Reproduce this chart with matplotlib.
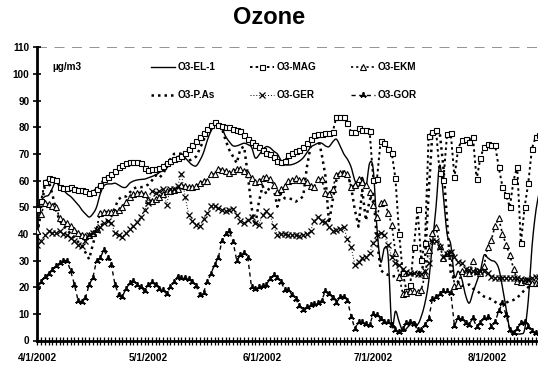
import numpy as np
import matplotlib
matplotlib.use("Agg")
import matplotlib.pyplot as plt

# ---------------- data (daily values, day 0 = 4/1/2002) ----------------
month_days = [0, 30, 61, 91, 122]
month_labels = ["4/1/2002", "5/1/2002", "6/1/2002", "7/1/2002", "8/1/2002"]

el1 = [49, 52.5, 54, 54.5, 57, 60, 58, 56.5, 55, 54,
       52.5, 51, 49, 47.5, 46.3, 47.5, 50, 55, 58, 58.7,
       58.7, 59, 58.3, 57.5, 57.5, 59, 59.8, 60.2, 60.4, 60.5,
       61, 61.5, 62, 63, 63.8, 64.6, 66.5, 68, 69, 69.2,
       68.5, 67, 65.8, 65.5, 67.5, 70.5, 75, 78.5, 80.5, 81.4,
       79.5, 76.5, 74.5, 73, 73, 73.5, 74, 73.5, 72.5, 68.5,
       69.5, 71.5, 72.7, 72.3, 71, 70, 67.5, 66, 65.8, 66,
       66.5, 67.3, 68.5, 70.5, 72.5, 73.3, 74, 74, 73, 72.7,
       74.5, 75.5, 73, 70, 68, 65, 60, 57.7, 61.2, 57.7,
       66.5, 64, 42, 29.5, 34.6, 32, 5.5, 11, 7, 3.5,
       4.5, 6, 7, 6, 9, 14, 22, 36, 50, 65.8,
       54, 40, 36, 24, 26, 23, 17, 14, 18, 22,
       26, 32, 31, 30, 29.5, 27, 20, 12, 4, 2.5,
       2.5, 2.5, 4, 15, 35, 48, 56]

mag = [49.5, 52.5, 59.5, 61, 60.5, 60.2, 57.5, 57.2, 57.3, 57.4,
       56.8, 56.5, 56.3, 56, 55.5, 55.8, 57, 58.5, 60.5, 61.5,
       62.5, 63.5, 65, 66, 66.5, 66.8, 67, 67, 66.7, 64.8,
       64, 64.2, 64.3, 64.8, 65.5, 66.5, 67.5, 68, 68.5, 69.3,
       70.5, 72, 73.5, 75, 76.5, 78, 79.2, 80.8, 82, 80.8,
       80.3, 80, 80, 79.5, 79, 78.5, 77, 75.5, 74.5, 73.5,
       72.5, 71.5, 70.5, 70, 68.8, 67.5, 67, 67.3, 69.5, 70.5,
       71, 71.5, 72.5, 74, 75.5, 77, 77.3, 77.5, 77.8, 78,
       78.1, 84, 84, 84, 81.7, 78.1, 78.3, 79.6, 79, 79,
       78.7, 60.2, 60.5, 75, 74.2, 72, 70.4, 60.8, 40, 25.2,
       18.7, 20.8, 35, 49.2, 30.2, 36.7, 76.7, 78.3, 79, 62.7,
       60.2, 77.5, 77.7, 61.2, 72, 75.2, 75.5, 74.6, 76.5, 60.4,
       68.3, 72.7, 73.7, 73.3, 73.3, 65, 57.7, 54.5, 50, 60,
       65.2, 36.4, 50, 59, 72, 76.3, 77]

ekm = [41, 47.5, 51.5, 51.2, 50.5, 50, 46, 45, 44, 43,
       41.5, 40.5, 39.6, 39.2, 39.5, 40.5, 42, 48, 48.3, 48.3,
       48.3, 48.3, 49, 50, 52, 54, 55, 55.5, 55.5, 55,
       52.7, 52.5, 53, 54, 55, 56, 56.2, 56.5, 57, 58.3,
       57.8, 57.5, 57.7, 58, 59, 60, 60, 62.5, 62.5, 64.5,
       64, 63.5, 63, 63.7, 64.5, 64.2, 63.5, 62.5, 61, 59.6,
       60, 61, 61.2, 60.5, 58.3, 55.8, 57, 58, 60, 60.2,
       60.8, 60.2, 60.2, 59.5, 58, 57.5, 60.5, 60.5, 55.5, 55,
       57, 62, 63, 62.8, 62.5, 57.5, 58.3, 60.5, 59.5, 58.3,
       55.8, 51, 46.5, 51.5, 52, 48, 43.5, 33, 24, 17.5,
       18, 18.7, 18.5, 18.3, 19, 24.5, 34, 40.5, 42.7, 35.5,
       31, 33, 33.3, 20.5, 21, 26, 25.5, 25.2, 30, 26,
       25.2, 28, 35, 37.7, 43, 45.8, 40, 36, 32, 27,
       22.5, 22.1, 22.7, 22.2, 21.7, 21.5, 22]

pas = [40, 50, 58, 60, 55, 49, 45, 43, 41.5, 40,
       38.5, 37, 35.5, 33, 30.5, 36, 41, 43, 44, 45,
       46.5, 50, 53, 54, 54, 55.5, 57, 57.5, 57.5, 57.7,
       58.5, 60, 62, 61, 62.5, 65, 68, 70, 70.2, 70,
       68, 67.5, 68, 69, 72, 75, 79, 80, 81.5, 80,
       79.5, 75, 71.4, 69, 66.5, 72, 72.7, 62, 50, 43,
       52, 58, 55, 57.7, 57.1, 50.2, 55.2, 53.3, 53.3, 53,
       52.1, 53, 54, 65, 72.7, 75.2, 76.4, 70, 62, 44,
       52.7, 60.2, 63.3, 63.3, 63, 57.5, 49, 42.7, 56.5, 45,
       52.7, 55, 37.7, 26.4, 25.2, 24.6, 24, 24.2, 24.6, 24.6,
       24.6, 24.6, 25, 25.2, 26, 30, 55, 77.7, 79.6, 78,
       65, 45, 25, 23, 22, 20.5, 20.5, 21, 19.5, 18.9,
       17.5, 16.5, 16, 15.5, 14.5, 13.5, 13.9, 14.2, 14.8, 15.2,
       16, 17.5, 18.9, 20, 20.8, 22, 22]

ger = [36, 37.5, 39.5, 41, 40.5, 40.5, 41, 40, 39.5, 38.5,
       37.5, 36, 35.5, 37.5, 39.5, 40.5, 41.5, 42.5, 44, 45,
       44, 40.5, 39.5, 39, 40.5, 42, 43, 44.5, 46.5, 49,
       51.5, 56, 55.5, 56, 57, 51, 57, 57, 58, 62.5,
       54, 47, 45, 43.5, 43, 45.5, 48, 50.5, 50.5, 49.8,
       49, 48.5, 49, 49.5, 47, 45, 44.2, 45.3, 46.5, 44,
       43.5, 47, 48.5, 47, 43, 39.6, 39.8, 40, 39.4, 39.4,
       39.6, 39.3, 39.5, 40, 41, 45, 46.5, 45, 44.5, 42.5,
       41, 41.5, 42, 42.5, 38, 35, 28.5, 29.5, 31, 31.5,
       32.7, 36.5, 39.5, 40.5, 39.6, 36, 31.5, 29, 28.3, 26.8,
       25.8, 25.2, 25.2, 25, 25, 26, 29, 37.5, 37.5, 35,
       31.5, 32.5, 33.3, 31.5, 29.5, 29, 27, 26.4, 26.1, 25.8,
       26, 26, 25.5, 24, 23.6, 23.6, 23.6, 23.6, 23.6, 23.6,
       23.6, 23, 22.8, 22.6, 23.5, 23.8, 24]

gor = [20, 22, 24, 25, 26.5, 28, 29, 30, 30, 26,
       21, 15, 14.5, 16, 21, 23.5, 30, 31, 34, 31,
       28.5, 21, 17, 16.5, 19.5, 21.5, 22.5, 21, 20, 18.5,
       21, 22, 21, 19.5, 19, 17.5, 20, 22, 24, 23.3,
       23.6, 23, 22, 20.5, 17, 18, 22, 25, 28.5, 31,
       37.5, 40, 41, 37, 30, 32, 33, 31, 20, 19.5,
       20, 20.5, 21, 23, 24.5, 23.5, 22, 19, 19, 17,
       15.5, 13, 11.5, 12.5, 13.5, 13.7, 14, 15, 18.5, 17.5,
       16, 14, 16.5, 16.5, 15, 9, 4.5, 7, 6.8, 6.2,
       5.8, 10, 9.5, 8, 7, 6.8, 6, 4, 3.3, 4.5,
       6.5, 7, 6.2, 4, 4, 6, 8, 15.5, 16.5, 17.5,
       18.5, 18.5, 18, 5.5, 8.5, 8, 6.5, 6, 8.5, 5,
       6.5, 8.5, 9, 5, 7, 11, 14, 9.5, 4, 3,
       4.5, 6.5, 7, 5, 3.5, 3, 3]

series_names = ["O3-EL-1", "O3-MAG", "O3-EKM", "O3-P.As", "O3-GER", "O3-GOR"]

days = np.arange(len(el1))


def smooth(x, y, n=8):
    """Catmull-Rom curve through the points (Excel 'smoothed line' look)."""
    x = np.asarray(x, float)
    y = np.asarray(y, float)
    xp = np.concatenate([[2 * x[0] - x[1]], x, [2 * x[-1] - x[-2]]])
    yp = np.concatenate([[2 * y[0] - y[1]], y, [2 * y[-1] - y[-2]]])
    xs, ys = [], []
    t = np.linspace(0, 1, n, endpoint=False)
    for i in range(1, len(xp) - 2):
        for pp, out in (((yp[i - 1], yp[i], yp[i + 1], yp[i + 2]), ys),
                        ((xp[i - 1], xp[i], xp[i + 1], xp[i + 2]), xs)):
            a0, a1, a2, a3 = pp
            out.extend(0.5 * ((2 * a1) + (-a0 + a2) * t +
                              (2 * a0 - 5 * a1 + 4 * a2 - a3) * t ** 2 +
                              (-a0 + 3 * a1 - 3 * a2 + a3) * t ** 3))
    xs.append(x[-1]); ys.append(y[-1])
    return np.array(xs), np.array(ys)


plt.rcParams['font.family'] = ['Liberation Sans', 'DejaVu Sans']
plt.rcParams['font.weight'] = 'bold'

W, H = 538, 367
fig = plt.figure(figsize=(W / 100, H / 100), dpi=100)
ax_l, ax_r, ax_b, ax_t = 36.5, 538, 340.5, 47.2
ax = fig.add_axes([ax_l / W, 1 - ax_b / H, (ax_r - ax_l) / W, (ax_b - ax_t) / H])

# series
sx, sy = smooth(days, el1)
ax.plot(sx, sy, color='black', lw=1.0, ls='-', label=series_names[0], zorder=3)
ax.plot(days, mag, color='black', lw=1.4, ls=(0, (1.3, 1.6)), marker='s', ms=3.6,
        mfc='white', mec='black', mew=0.8, label=series_names[1], zorder=4)
ax.plot(days, ekm, color='black', lw=1.2, ls=(0, (1.3, 1.8)), marker='^', ms=3.8,
        mfc='white', mec='black', mew=0.8, label=series_names[2], zorder=4)
ax.plot(days, pas, color='black', lw=1.8, ls=(0, (1.0, 1.6)), dash_capstyle='butt',
        label=series_names[3], zorder=3)
ax.plot(days, ger, color='black', lw=0.7, ls=(0, (1, 2)), marker='x', ms=3.8,
        mew=0.9, mec='black', label=series_names[4], zorder=4)
ax.plot(days, gor, color='black', lw=1.0, ls=(0, (3, 2.5)), marker=(3, 2, 0), ms=4.5,
        mew=1.3, mec='black', label=series_names[5], zorder=4)

# axes styling
ax.set_ylim(0, 110)
ax.set_xlim(-0.27, (ax_r - 37.5) / 3.69)
ax.axhline(110, color='#808080', lw=1.2, ls=(0, (6, 4.5)), zorder=1)
for s in ('top', 'right'):
    ax.spines[s].set_visible(False)
for s in ('left', 'bottom'):
    ax.spines[s].set_linewidth(2.0)
    ax.spines[s].set_color('black')

ax.set_yticks(np.arange(0, 111, 10))
ax.tick_params(axis='y', direction='inout', length=6, width=1.2, pad=2,
               labelsize=7.2)
all_days = np.arange(0, 136)
ax.set_xticks(all_days)
ax.set_xticklabels([month_labels[month_days.index(d)] if d in month_days else ''
                    for d in all_days])
ax.tick_params(axis='x', direction='inout', length=6, width=0.9, pad=6,
               labelsize=7.2)
for lab in ax.get_xticklabels() + ax.get_yticklabels():
    lab.set_fontweight('bold')

fig.text(0.5, 1 - 18 / H, "Ozone", ha='center', va='center', fontsize=17,
         fontweight='bold')
ax.text(52 / W, 1 - 67 / H, "µg/m3", transform=fig.transFigure, ha='left',
        va='center', fontsize=7.2, fontweight='bold')

handles, labels = ax.get_legend_handles_labels()
order = [0, 3, 1, 4, 2, 5]
leg = ax.legend([handles[i] for i in order], [labels[i] for i in order],
                ncol=3, loc='upper left', bbox_to_anchor=(151 / W, 1 - 62 / H),
                bbox_transform=fig.transFigure, frameon=False,
                handlelength=2.4, handletextpad=0.3, columnspacing=3.4,
                labelspacing=1.85, borderpad=0, borderaxespad=0, numpoints=1,
                prop={'weight': 'bold', 'size': 7.2})

fig.savefig("out.png", dpi=100)
